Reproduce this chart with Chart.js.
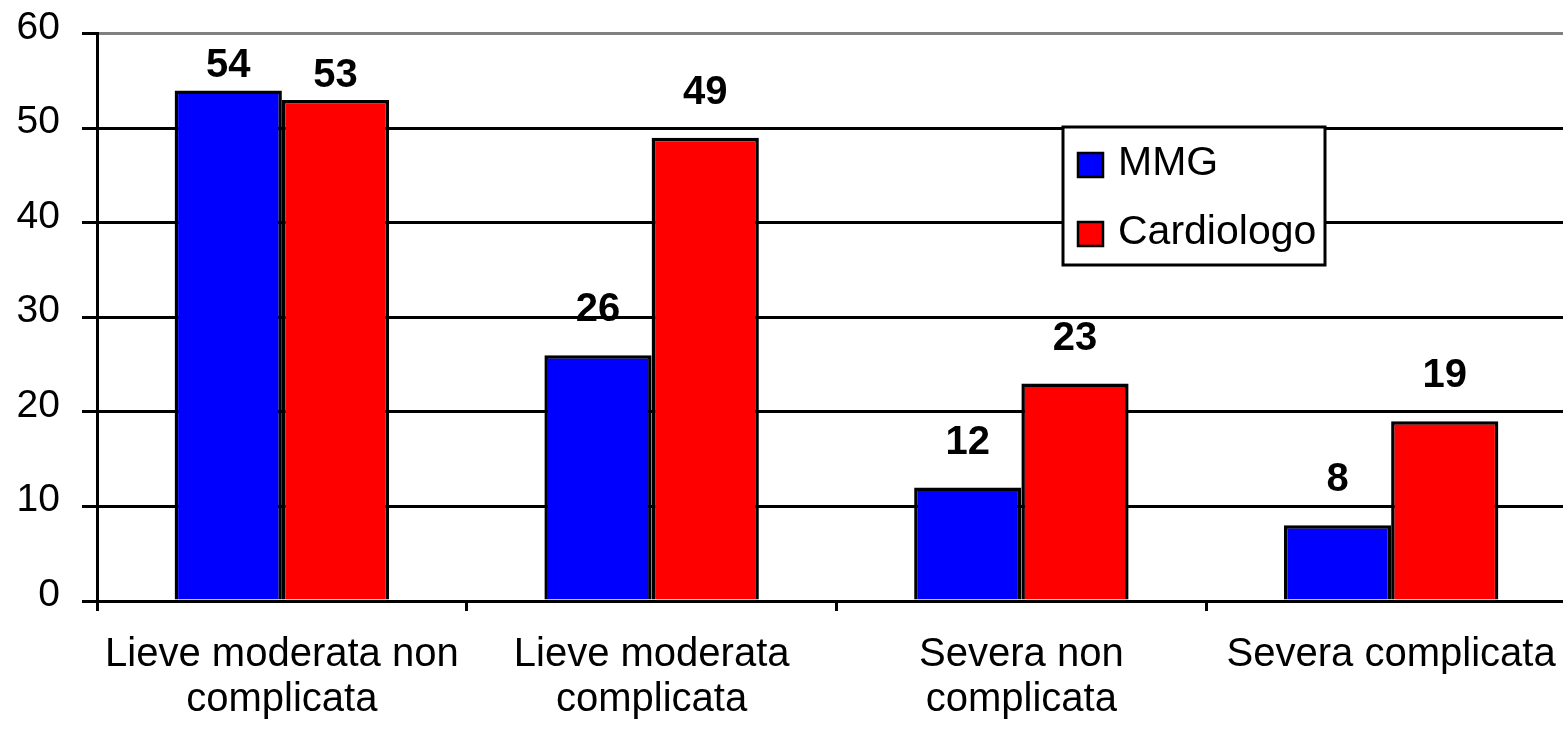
<!DOCTYPE html>
<html>
<head>
<meta charset="utf-8">
<script src="https://cdn.jsdelivr.net/npm/chart.js@4/dist/chart.umd.min.js"></script>
<style>
  html, body { margin: 0; padding: 0; background: #fff; overflow: hidden; }
  #wrap { width: 1563px; height: 731px; overflow: hidden; }
</style>
</head>
<body>
<div id="wrap"><canvas id="myChart" width="1580" height="731"></canvas></div>
<script>
const categories = [
  ["Lieve moderata non", "complicata"],
  ["Lieve moderata", "complicata"],
  ["Severa non", "complicata"],
  "Severa complicata",
];
const mmgValues = [54, 26, 12, 8];
const cardiologoValues = [53, 49, 23, 19];
const seriesNames = ["MMG", "Cardiologo"];
const seriesColors = ["#0000ff", "#ff0000"];

const FONT = "'Liberation Sans', Arial, sans-serif";

// value labels above each bar
const barLabels = {
  id: "barLabels",
  afterDatasetsDraw(chart) {
    const ctx = chart.ctx;
    const top = chart.chartArea.top;
    ctx.save();
    ctx.font = "bold 40px " + FONT;
    ctx.fillStyle = "#000";
    ctx.textAlign = "center";
    ctx.textBaseline = "alphabetic";
    chart.data.datasets.forEach((ds, i) => {
      chart.getDatasetMeta(i).data.forEach((bar, j) => {
        let y = bar.y - 34;
        if (y - 28 < top + 14) y = bar.y - 13; // no room under the top line
        ctx.fillText(ds.data[j], bar.x, y);
      });
    });
    ctx.restore();
  },
};

// boxed legend inside the plot
const boxLegend = {
  id: "boxLegend",
  afterDraw(chart) {
    const ctx = chart.ctx;
    const bx = 1063, by = 127, bw = 262, bh = 138;
    ctx.save();
    ctx.fillStyle = "#fff";
    ctx.fillRect(bx, by, bw, bh);
    ctx.lineWidth = 3;
    ctx.strokeStyle = "#000";
    ctx.strokeRect(bx, by, bw, bh);
    ctx.font = "41px " + FONT;
    ctx.textAlign = "left";
    ctx.textBaseline = "alphabetic";
    chart.data.datasets.forEach((ds, i) => {
      const sy = by + 26 + i * 69;
      ctx.fillStyle = ds.backgroundColor;
      ctx.fillRect(bx + 15, sy, 25, 24);
      ctx.lineWidth = 2.5;
      ctx.strokeRect(bx + 15, sy, 25, 24);
      ctx.fillStyle = "#000";
      ctx.fillText(ds.label, bx + 55, sy + 22);
    });
    ctx.restore();
  },
};

const data = {
  labels: categories,
  datasets: [
    {
      label: seriesNames[0],
      data: mmgValues,
      backgroundColor: seriesColors[0],
      borderColor: "#000",
      borderWidth: 3.5,
    },
    {
      label: seriesNames[1],
      data: cardiologoValues,
      backgroundColor: seriesColors[1],
      borderColor: "#000",
      borderWidth: 3.5,
    },
  ],
};

const config = {
  type: "bar",
  data: data,
  options: {
    responsive: false,
    animation: false,
    categoryPercentage: 0.58,
    barPercentage: 1,
    layout: { padding: { top: 16, right: 4, left: 0, bottom: 0 } },
    plugins: {
      legend: { display: false },
      tooltip: { enabled: false },
    },
    scales: {
      x: {
        grid: {
          offset: true,
          drawOnChartArea: false,
          drawTicks: true,
          tickLength: 10,
          tickColor: "#000",
          lineWidth: 3,
        },
        border: { color: "#000", width: 3 },
        ticks: {
          color: "#000",
          font: { family: FONT, size: 40, lineHeight: 1.12 },
          padding: 22,
          maxRotation: 0,
          autoSkip: false,
        },
        afterFit(scale) {
          scale.height = 130;
        },
      },
      y: {
        min: 0,
        max: 60,
        ticks: {
          stepSize: 10,
          color: "#000",
          font: { family: FONT, size: 39, lineHeight: 0.3 },
          padding: 22,
          // empty second line lifts the number a little above its gridline
          callback: (v) => [String(v), ""],
        },
        grid: {
          color: (c) => (c.tick && c.tick.value === 60 ? "#808080" : "#000"),
          tickColor: "#000",
          tickLength: 15,
          lineWidth: 3,
        },
        border: { color: "#000", width: 3 },
        afterFit(scale) {
          scale.width = 97;
        },
      },
    },
  },
  plugins: [barLabels, boxLegend],
};

const myChart = new Chart(document.getElementById("myChart"), config);
</script>
</body>
</html>
